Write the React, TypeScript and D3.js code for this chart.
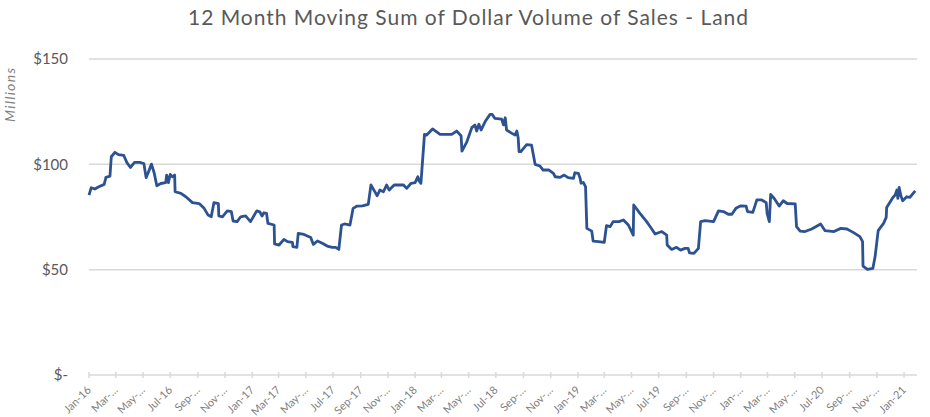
import React from "react";
import * as d3 from "d3";

const TITLE = "12 Month Moving Sum of Dollar Volume of Sales - Land";
const Y_AXIS_TITLE = "Millions";

const DATES: string[] = [
  "2016-01-01","2016-01-06","2016-01-14","2016-01-23","2016-02-04","2016-02-08","2016-02-17","2016-02-20","2016-02-28","2016-03-07",
  "2016-03-19","2016-03-26","2016-04-03","2016-04-12","2016-04-24","2016-05-03","2016-05-08","2016-05-12","2016-05-20","2016-05-26",
  "2016-06-01","2016-06-10","2016-06-21","2016-06-23","2016-06-27","2016-07-01","2016-07-06","2016-07-11","2016-07-12","2016-07-25",
  "2016-08-05","2016-08-20","2016-09-04","2016-09-15","2016-09-24","2016-10-01","2016-10-07","2016-10-17","2016-10-18","2016-10-26",
  "2016-11-06","2016-11-15","2016-11-19","2016-11-28","2016-12-06","2016-12-17","2016-12-28","2017-01-11","2017-01-18","2017-01-23",
  "2017-01-27","2017-02-02","2017-02-05","2017-02-19","2017-02-20","2017-03-02","2017-03-13","2017-03-21","2017-04-01","2017-04-02",
  "2017-04-11","2017-04-14","2017-04-27","2017-05-12","2017-05-18","2017-05-27","2017-06-07","2017-06-18","2017-06-29","2017-07-07",
  "2017-07-14","2017-07-20","2017-07-27","2017-08-08","2017-08-15","2017-08-24","2017-09-05","2017-09-18","2017-09-24","2017-10-02",
  "2017-10-08","2017-10-14","2017-10-22","2017-10-29","2017-11-04","2017-11-15","2017-12-06","2017-12-13","2017-12-23","2018-01-01",
  "2018-01-07","2018-01-10","2018-01-14","2018-01-22","2018-01-27","2018-02-09","2018-02-26","2018-03-24","2018-04-04","2018-04-14",
  "2018-04-16","2018-04-27","2018-05-08","2018-05-15","2018-05-19","2018-05-24","2018-05-29","2018-06-07","2018-06-18","2018-06-23",
  "2018-06-29","2018-07-14","2018-07-18","2018-07-22","2018-07-25","2018-08-06","2018-08-13","2018-08-17","2018-08-20","2018-08-22",
  "2018-08-26","2018-09-08","2018-09-19","2018-09-27","2018-10-08","2018-10-15","2018-10-28","2018-11-07","2018-11-11","2018-11-22",
  "2018-12-01","2018-12-10","2018-12-22","2018-12-25","2019-01-02","2019-01-06","2019-01-08","2019-01-13","2019-01-18","2019-01-21",
  "2019-02-01","2019-02-04","2019-02-16","2019-03-01","2019-03-06","2019-03-14","2019-03-21","2019-04-03","2019-04-13","2019-04-24",
  "2019-05-05","2019-05-06","2019-05-20","2019-06-04","2019-06-12","2019-06-23","2019-07-08","2019-07-19","2019-07-20","2019-07-30",
  "2019-08-10","2019-08-19","2019-08-29","2019-09-05","2019-09-08","2019-09-18","2019-09-28","2019-10-03","2019-10-13","2019-11-01",
  "2019-11-12","2019-11-23","2019-12-04","2019-12-12","2019-12-21","2020-01-01","2020-01-13","2020-01-16","2020-01-28","2020-02-06",
  "2020-02-17","2020-02-27","2020-02-29","2020-03-05","2020-03-08","2020-03-16","2020-03-27","2020-04-05","2020-04-14","2020-05-02",
  "2020-05-05","2020-05-13","2020-05-24","2020-06-08","2020-06-28","2020-07-08","2020-07-28","2020-08-12","2020-08-26","2020-09-09",
  "2020-09-24","2020-09-30","2020-10-01","2020-10-11","2020-10-23","2020-10-28","2020-11-04","2020-11-16","2020-11-22","2020-11-23",
  "2020-12-07","2020-12-12","2020-12-16","2020-12-18","2020-12-21","2020-12-25","2020-12-29","2021-01-07","2021-01-14","2021-01-20",
  "2021-01-26",
];

const VALUES: number[] = [
  85.4, 88.9, 88.3, 89.4, 90.5, 93.8, 94.4, 103.6, 105.7, 104.6,
  104.2, 100.8, 98.5, 100.9, 100.9, 100.4, 93.7, 95.7, 100.1, 96.0,
  89.8, 90.9, 91.3, 94.9, 91.3, 95.2, 94.1, 94.9, 87.0, 86.2,
  84.6, 81.8, 81.4, 79.1, 75.9, 75.1, 81.8, 81.4, 75.5, 75.1,
  77.9, 77.6, 73.1, 72.8, 75.1, 75.5, 72.8, 77.9, 77.4, 75.5,
  77.0, 76.7, 72.0, 71.2, 62.2, 61.7, 64.4, 63.3, 63.0, 60.9,
  60.6, 67.2, 66.7, 65.3, 62.0, 63.6, 62.5, 61.2, 60.6, 60.6,
  59.6, 71.2, 71.7, 71.2, 79.1, 80.2, 80.3, 81.0, 90.2, 87.3,
  85.1, 87.8, 87.0, 90.2, 87.8, 90.2, 90.2, 88.6, 91.0, 91.3,
  94.1, 92.1, 91.0, 114.2, 113.9, 116.8, 114.2, 114.2, 115.8, 113.6,
  106.3, 110.7, 117.4, 118.7, 115.8, 119.0, 116.3, 120.3, 123.7, 123.7,
  121.8, 121.5, 118.7, 122.1, 116.3, 114.7, 113.9, 115.8, 112.6, 106.0,
  106.0, 109.4, 109.1, 100.0, 99.2, 97.3, 97.3, 95.7, 94.1, 93.8,
  94.9, 93.7, 93.3, 96.0, 95.7, 93.3, 91.0, 91.4, 89.4, 69.6,
  68.3, 63.6, 63.3, 63.0, 70.9, 70.4, 72.8, 72.8, 73.6, 71.2,
  66.4, 80.7, 76.7, 72.8, 70.4, 66.9, 68.1, 66.4, 61.7, 59.6,
  60.6, 59.3, 60.1, 60.1, 58.0, 57.7, 60.1, 72.8, 73.3, 72.8,
  77.9, 77.6, 76.3, 76.3, 79.1, 80.3, 80.2, 77.6, 77.2, 83.1,
  83.1, 81.8, 76.7, 72.8, 85.7, 83.8, 80.2, 82.7, 81.4, 81.2,
  70.4, 68.3, 68.1, 69.3, 71.7, 68.5, 68.1, 69.6, 69.3, 67.7,
  65.7, 63.3, 51.7, 50.1, 50.6, 56.1, 68.5, 72.0, 74.8, 79.5,
  84.3, 85.4, 87.8, 83.8, 89.0, 85.0, 82.7, 84.6, 84.3, 85.9,
  87.4,
];

const Y_TICKS: number[] = [0, 50, 100, 150];
const Y_TICK_LABELS: string[] = ["$-", "$50", "$100", "$150"];

const X_TICK_DATES: string[] = [
  "2016-01-01","2016-03-01","2016-05-01","2016-07-01","2016-09-01","2016-11-01",
  "2017-01-01","2017-03-01","2017-05-01","2017-07-01","2017-09-01","2017-11-01",
  "2018-01-01","2018-03-01","2018-05-01","2018-07-01","2018-09-01","2018-11-01",
  "2019-01-01","2019-03-01","2019-05-01","2019-07-01","2019-09-01","2019-11-01",
  "2020-01-01","2020-03-01","2020-05-01","2020-07-01","2020-09-01","2020-11-01",
  "2021-01-01",
];
const X_TICK_LABELS: string[] = [
  "Jan-16","Mar-…","May-…","Jul-16","Sep-…","Nov-…",
  "Jan-17","Mar-17","May-…","Jul-17","Sep-17","Nov-…",
  "Jan-18","Mar-…","May-…","Jul-18","Sep-…","Nov-…",
  "Jan-19","Mar-…","May-…","Jul-19","Sep-…","Nov-…",
  "Jan-…","Mar-…","May-…","Jul-20","Sep-…","Nov-…",
  "Jan-21",
];
const X_DOMAIN: string[] = ["2016-01-01", "2021-01-30"];

const W = 930;
const H = 417;
const M = { left: 89, right: 13, top: 59, bottom: 42 };
const FONT = "Lato, 'Open Sans', sans-serif";

export default function App() {
  const parse = d3.utcParse("%Y-%m-%d");
  const x = d3
    .scaleUtc()
    .domain(X_DOMAIN.map((d) => parse(d) as Date))
    .range([M.left, W - M.right]);
  const y = d3.scaleLinear().domain([0, 150]).range([H - M.bottom, M.top]);

  const pts = DATES.map((d, i) => ({ date: parse(d) as Date, v: VALUES[i] }));
  const line = d3
    .line<{ date: Date; v: number }>()
    .x((d) => x(d.date))
    .y((d) => y(d.v));

  const x0 = M.left;
  const x1 = W - M.right;
  const yBase = y(0);

  return (
    <svg
      width={W}
      height={H}
      style={{ position: "absolute", left: 0, top: 0, background: "#fff" }}
      fontFamily={FONT}
    >
      <text
        x={468}
        y={25}
        textAnchor="middle"
        fontSize={21}
        fill="#595959"
        textLength={560}
        lengthAdjust="spacing"
      >
        {TITLE}
      </text>
      <text
        transform={`translate(15, 95) rotate(-90)`}
        textAnchor="middle"
        fontSize={14}
        fontStyle="italic"
        fill="#7f7f7f"
        textLength={54}
        lengthAdjust="spacing"
      >
        {Y_AXIS_TITLE}
      </text>
      {Y_TICKS.map((t, i) => (
        <g key={t}>
          {t !== 0 && (
            <line x1={x0} x2={x1} y1={y(t)} y2={y(t)} stroke="#d9d9d9" strokeWidth={1.5} />
          )}
          <text
            x={68}
            y={y(t)}
            dy="0.35em"
            textAnchor="end"
            fontSize={15}
            fill="#595959"
          >
            {Y_TICK_LABELS[i]}
          </text>
        </g>
      ))}
      <line x1={x0} x2={x1} y1={yBase} y2={yBase} stroke="#d9d9d9" strokeWidth={1.5} />
      {X_TICK_DATES.map((d, i) => {
        const tx = x(parse(d) as Date);
        return (
          <g key={d}>
            <line x1={tx} x2={tx} y1={yBase - 3} y2={yBase + 3} stroke="#d9d9d9" strokeWidth={1.5} />
            <text
              transform={`translate(${tx}, ${yBase + 13}) rotate(-45)`}
              textAnchor="end"
              fontSize={11}
              fill="#7f7f7f"
              dy="0.35em"
            >
              {X_TICK_LABELS[i]}
            </text>
          </g>
        );
      })}
      <path
        d={line(pts) || ""}
        fill="none"
        stroke="#2c5291"
        strokeWidth={2.8}
        strokeLinejoin="round"
      />
    </svg>
  );
}
